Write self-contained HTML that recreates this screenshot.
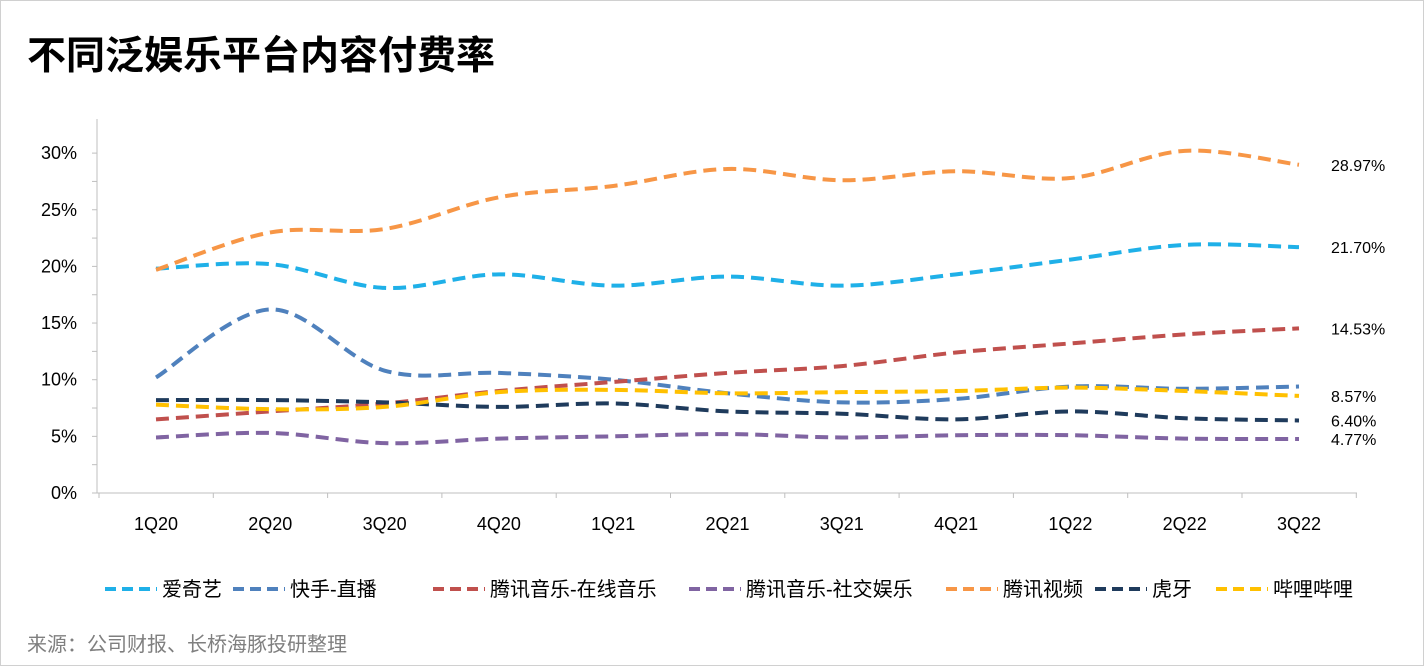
<!DOCTYPE html>
<html><head><meta charset="utf-8"><style>
body{margin:0;background:#fff;font-family:"Liberation Sans","Noto Sans CJK SC",sans-serif;}
#wrap{position:relative;width:1422px;height:664px;border:1px solid #d0d0d0;overflow:hidden}
</style></head><body>
<div id="wrap">
<svg id="chart" width="1422" height="664">
<text x="26" y="68" font-size="39" font-weight="bold" fill="#000" font-family="Liberation Sans,Noto Sans CJK SC,sans-serif">不同泛娱乐平台内容付费率</text>
<text x="26" y="650" font-size="20" fill="#7f7f7f" font-family="Liberation Sans,Noto Sans CJK SC,sans-serif">来源：公司财报、长桥海豚投研整理</text>
</svg>
</div>
<script>
const categories=["1Q20","2Q20","3Q20","4Q20","1Q21","2Q21","3Q21","4Q21","1Q22","2Q22","3Q22"];
const yTicks=[0,5,10,15,20,25,30];
const seriesNames=["爱奇艺","快手-直播","腾讯音乐-在线音乐","腾讯音乐-社交娱乐","腾讯视频","虎牙","哔哩哔哩"];
const iqiyi=[19.8,20.2,18.1,19.3,18.3,19.1,18.3,19.3,20.6,21.9,21.70];
const kuaishou=[10.2,16.2,10.8,10.6,10.0,8.8,8.0,8.3,9.4,9.2,9.4];
const tmeMusic=[6.5,7.2,7.9,9.0,9.8,10.6,11.2,12.4,13.2,14.0,14.53];
const tmeSocial=[4.9,5.3,4.4,4.8,5.0,5.2,4.9,5.1,5.1,4.8,4.77];
const tencentVideo=[19.7,23.0,23.3,26.1,27.1,28.6,27.6,28.4,27.8,30.2,28.97];
const huya=[8.2,8.2,8.0,7.6,7.9,7.2,7.0,6.5,7.2,6.6,6.40];
const bilibili=[7.8,7.4,7.6,8.9,9.1,8.8,8.9,9.0,9.3,9.0,8.57];
const endLabels=["21.70%",null,"14.53%","4.77%","28.97%","6.40%","8.57%"];
const seriesData=[iqiyi,kuaishou,tmeMusic,tmeSocial,tencentVideo,huya,bilibili];
const colors=["#1fb0e8","#4f81bd","#c0504d","#8064a2","#f79646","#1f3b5c","#ffc000"];
const slugs=["iqiyi","kuaishou-live","tme-music","tme-social","tencent-video","huya","bilibili"];
const NS="http://www.w3.org/2000/svg";
const svg=document.getElementById("chart");
const x=i=>155+i*114.3;
const y=v=>492-v*11.33;
function mk(t,a){const e=document.createElementNS(NS,t);for(const k in a)e.setAttribute(k,a[k]);svg.appendChild(e);return e;}
const ax=mk("line",{x1:96,y1:118,x2:96,y2:492,stroke:"#bfbfbf","stroke-width":1});


const xa=mk("line",{x1:96,y1:492,x2:1356,y2:492,stroke:"#bfbfbf","stroke-width":1});


for(let k=0;k<=30;k+=2.5){const t=mk("line",{x1:91,x2:96,y1:y(k),y2:y(k),stroke:"#bfbfbf"});}
for(let i=0;i<=categories.length;i++){const t=mk("line",{x1:98+i*114.3,x2:98+i*114.3,y1:492,y2:497,stroke:"#bfbfbf"});}
yTicks.forEach(v=>{const t=mk("text",{x:76,y:y(v)+6,"text-anchor":"end","font-size":18,fill:"#000"});t.textContent=v+"%";

});
categories.forEach((c,i)=>{const t=mk("text",{x:x(i),y:529,"text-anchor":"middle","font-size":18,fill:"#000"});t.textContent=c;

});
function pathOf(d){const p=d.map((v,i)=>[x(i),y(v)]);let s="M"+p[0];for(let i=0;i<p.length-1;i++){const p0=p[i-1]||p[i],p1=p[i],p2=p[i+1],p3=p[i+2]||p2;const t=6;
s+=" C"+(p1[0]+(p2[0]-p0[0])/t)+","+(p1[1]+(p2[1]-p0[1])/t)+" "+(p2[0]-(p3[0]-p1[0])/t)+","+(p2[1]-(p3[1]-p1[1])/t)+" "+p2;}return s;}
seriesData.forEach((d,si)=>{const l=mk("path",{d:pathOf(d),fill:"none",stroke:colors[si],"stroke-width":4,"stroke-dasharray":"13 7"});


if(endLabels[si]){const t=mk("text",{x:1330,y:y(d[d.length-1])+6,"font-size":16,fill:"#000"});t.textContent=endLabels[si];

}});
const lx=[104,232,432,688,945,1094,1215];
seriesNames.forEach((n,i)=>{const l=mk("line",{x1:lx[i],x2:lx[i]+52,y1:588,y2:588,stroke:colors[i],"stroke-width":4,"stroke-dasharray":"11 6"});


const t=mk("text",{x:lx[i]+57,y:595,"font-size":20,fill:"#000"});t.textContent=n;

});
</script>
</body></html>
